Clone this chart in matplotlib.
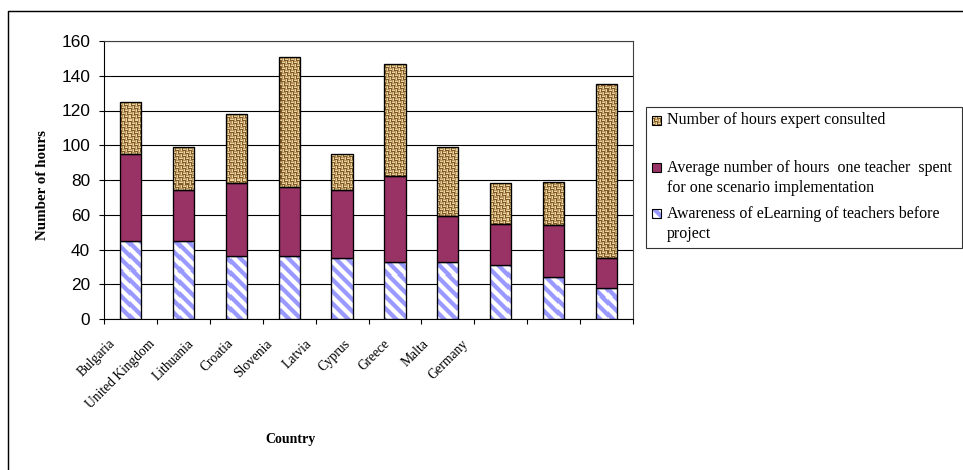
import matplotlib
matplotlib.use("Agg")
import matplotlib.pyplot as plt
from matplotlib.patches import Rectangle
from matplotlib.lines import Line2D
from matplotlib.colors import to_rgb
import numpy as np

countries = ["Bulgaria", "United Kingdom", "Lithuania", "Croatia", "Slovenia",
             "Latvia", "Cyprus", "Greece", "Malta", "Germany"]
awareness = [45, 45, 36, 36, 35, 33, 33, 31, 24, 18]
avg_hours = [50, 29, 42, 40, 39, 49.5, 26, 23.5, 30, 17]
expert_hours = [30, 25, 40, 75, 21, 64, 40, 24, 25, 100]
yticks = [0, 20, 40, 60, 80, 100, 120, 140, 160]

label_expert = "Number of hours expert consulted"
label_avg = ["Average number of hours  one teacher  spent",
             "for one scenario implementation"]
label_aware = ["Awareness of eLearning of teachers before", "project"]

W, H, DPI = 963, 470, 80
fig = plt.figure(figsize=(W / DPI, H / DPI), dpi=DPI)


def fx(px):
    return px / W


def fy(py):
    return 1 - py / H


AX_L, AX_R, AX_T, AX_B = 104, 633, 41, 319
ax = fig.add_axes([fx(AX_L), fy(AX_B), fx(AX_R) - fx(AX_L),
                   fy(AX_T) - fy(AX_B)])

BLUE = "#9999FF"
PLUM = "#993366"


def stripe_texture(h, w):
    """Diagonal light-blue stripes on white, running top-left to bottom-right."""
    r, c = np.mgrid[0:h, 0:w]
    d = (c - r) % 12
    img = np.ones((h, w, 3))
    img[d < 5] = to_rgb(BLUE)
    img[(d == 5) | (d == 11)] = to_rgb("#CACAFF")
    return img


def burlap_texture(h, w):
    """Basket-weave pattern in beige and brown."""
    r, c = np.mgrid[0:h, 0:w]
    s = 3
    block = ((r // s) + (c // s)) % 2
    thread = np.where(block == 0, r % s, c % s)
    img = np.empty((h, w, 3))
    img[thread == 0] = to_rgb("#B8925A")
    img[thread == 1] = to_rgb("#E8D49C")
    img[thread == 2] = to_rgb("#7E5A2A")
    return img


x = np.arange(len(countries))
width = 0.40
awareness = np.array(awareness, dtype=float)
avg_hours = np.array(avg_hours, dtype=float)
expert_hours = np.array(expert_hours, dtype=float)

ax.set_xlim(-0.5, len(countries) - 0.5)
ax.set_ylim(0, 160)
tex_h, tex_w = AX_B - AX_T, AX_R - AX_L
extent = (-0.5, len(countries) - 0.5, 0, 160)


def textured(values, bottom, tex):
    bars = ax.bar(x, values, width, bottom=bottom, color="white",
                  edgecolor="none", linewidth=0, zorder=3)
    for b in bars:
        im = ax.imshow(tex, extent=extent, aspect="auto",
                       interpolation="nearest", zorder=4)
        im.set_clip_path(b)
    ax.bar(x, values, width, bottom=bottom, fill=False, edgecolor="black",
           linewidth=1.2, zorder=5)


textured(awareness, 0, stripe_texture(tex_h, tex_w))
ax.bar(x, avg_hours, width, bottom=awareness, color=PLUM, edgecolor="black",
       linewidth=1.2, zorder=5)
textured(expert_hours, awareness + avg_hours, burlap_texture(tex_h, tex_w))

ax.set_xlim(-0.5, len(countries) - 0.5)
ax.set_ylim(0, 160)
ax.set_yticks(yticks)
ax.set_yticklabels([str(v) for v in yticks], fontfamily="Liberation Sans",
                   fontsize=15.5)
ax.tick_params(axis="y", direction="out", length=4.5, width=1, pad=8,
               color="black")
ax.set_xticks(x)
ax.set_xticklabels([])
ax.tick_params(axis="x", which="major", length=0)
ax.set_xticks(np.arange(-0.5, len(countries)), minor=True)
ax.tick_params(axis="x", which="minor", direction="out", length=4.5, width=1,
               color="black")
ax.grid(axis="y", color="black", linewidth=1, zorder=0)
ax.set_axisbelow(True)
for side in ["left", "bottom"]:
    ax.spines[side].set_color("black")
    ax.spines[side].set_linewidth(1)
for side in ["top", "right"]:
    ax.spines[side].set_color("#404040")
    ax.spines[side].set_linewidth(1)

# category labels, set on a 45 degree slant
for i, name in enumerate(countries):
    fig.text(fx(109 + 39.2 * i), fy(337), name, rotation=45,
             rotation_mode="anchor", ha="right", va="top",
             fontfamily="Liberation Serif", fontsize=12.2)

fig.text(fx(43), fy(185), "Number of hours", rotation=90, ha="center",
         va="center", fontfamily="Liberation Serif", fontweight="bold",
         fontsize=13.5)
fig.text(fx(290), fy(440), "Country", ha="center", va="center",
         fontfamily="Liberation Serif", fontweight="bold", fontsize=12.5)

# legend box
fig.add_artist(Rectangle((fx(646), fy(248)), fx(962) - fx(646),
                         fy(107) - fy(248), transform=fig.transFigure,
                         fill=False, edgecolor="#333333", linewidth=1))

KEY = 9
entries = [
    (116, [label_expert], burlap_texture(KEY, KEY)),
    (163, label_avg, np.tile(np.array(to_rgb(PLUM)), (KEY, KEY, 1))),
    (209, label_aware, stripe_texture(KEY, KEY)),
]
for top, lines, swatch in entries:
    fig.figimage(swatch, xo=652, yo=H - (top + KEY), zorder=3)
    fig.add_artist(Rectangle((fx(652), fy(top + KEY)), KEY / W, KEY / H,
                             transform=fig.transFigure, fill=False,
                             edgecolor="black", linewidth=1, zorder=4))
    for j, line in enumerate(lines):
        fig.text(fx(667), fy(top + 4.5 + 20 * j), line, ha="left",
                 va="center", fontfamily="Liberation Serif", fontsize=14.4)

# outer frame
fig.add_artist(Line2D([fx(8), fx(8), fx(963)], [fy(470), fy(11), fy(11)],
                      transform=fig.transFigure, color="black", linewidth=1.3))

fig.savefig("out.png", dpi=DPI, facecolor="white")
